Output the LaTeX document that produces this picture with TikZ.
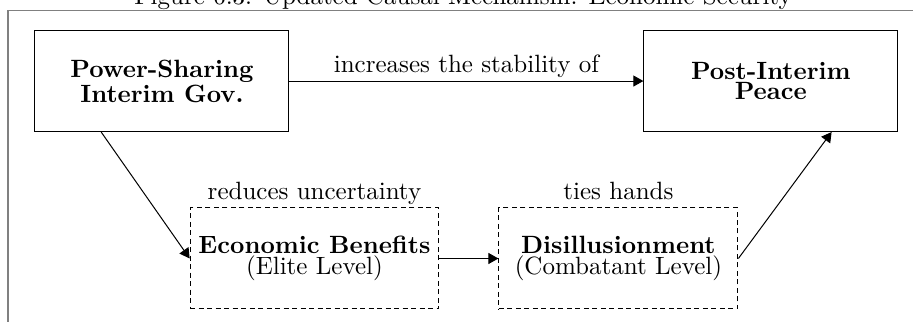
\documentclass[tikz,border=0pt]{standalone}
\usepackage{tikz}
\usetikzlibrary{arrows.meta,positioning}
\tikzstyle{stage} = [draw,rectangle,align=center,font={\bfseries\baselineskip=0pt},minimum width=3.57cm,minimum height=1.42cm]
\tikzstyle{mechanism} = [draw,rectangle,dash pattern=on 2pt off 1.4pt,align=center,font={\baselineskip=0pt},minimum width=3.36cm,minimum height=1.42cm]
\tikzstyle{link} = [-{Triangle[length=4pt,width=4.4pt]}]
\tikzstyle{cue} = [inner sep=1pt,text depth=.5ex]
\tikzstyle{frame} = [draw=gray,line width=.6pt]

\begin{document}
\begin{tikzpicture}
  \useasboundingbox (0,0) rectangle (12.836,-4.513);
  \clip (0,0) rectangle (12.836,-4.513);
  % caption, cut off by the page
  \node[anchor=base] (caption) at (6.51,-0.063) {Figure 6.3: Updated Causal Mechanism: Economic Security};
  \draw[frame] (0.112,-5) -- (0.112,-0.148) -- (13.5,-0.148);
  % main stages
  \node[stage] (psig) at (2.277,-1.139) {Power-Sharing\\Interim Gov.};
  \node[stage] (peace) at (10.837,-1.139) {Post-Interim\\Peace};
  % mechanism
  \node[mechanism,label={[cue]above:reduces uncertainty}] (econ) at (4.421,-3.634) {\textbf{Economic Benefits}\\(Elite Level)};
  \node[mechanism,label={[cue]above:ties hands}] (disill) at (8.694,-3.634) {\textbf{Disillusionment}\\(Combatant Level)};
  \draw[link] (psig) -- node[cue,above] {increases the stability of} (peace);
  \draw[link] (psig.220) -- (econ.west);
  \draw[link] (econ) -- (disill);
  \draw[link] (disill.east) -- (peace.320);
\end{tikzpicture}
\end{document}
